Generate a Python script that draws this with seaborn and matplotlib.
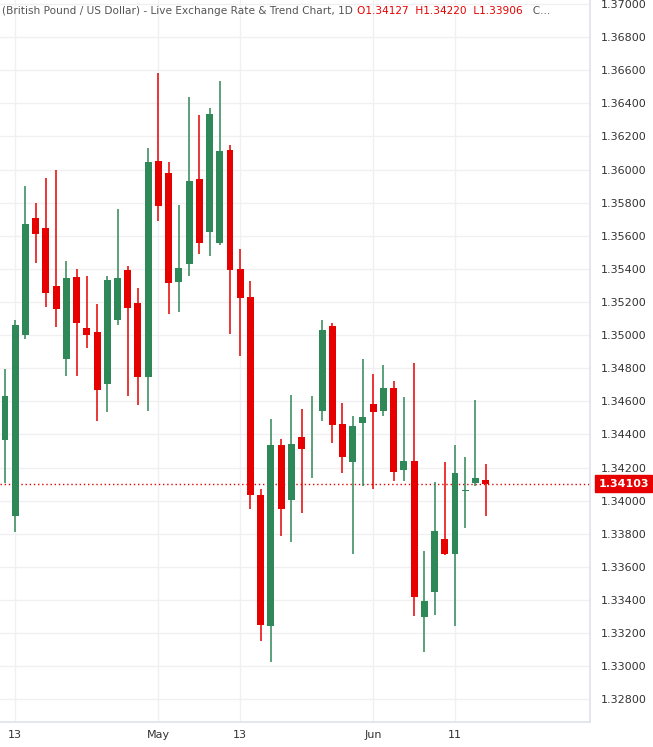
import matplotlib
matplotlib.use("Agg")
import matplotlib.pyplot as plt
import seaborn as sns
import numpy as np
import pandas as pd

dates = pd.bdate_range("2020-04-10", periods=48)
opens = [1.34367,1.33908,1.35001,1.35707,1.35647,1.35297,1.34856,1.35351,1.35043,1.35019,
         1.34705,1.35091,1.35393,1.35194,1.34747,1.36052,1.35979,1.35321,1.35430,1.35943,
         1.35623,1.35556,1.36118,1.35399,1.35230,1.34034,1.33243,1.34336,1.34004,1.34385,
         1.34334,1.34542,1.35055,1.34463,1.34234,1.34469,1.34584,1.34542,1.34680,1.34185,
         1.34240,1.33297,1.33449,1.33769,1.33678,1.34061,1.34107,1.34127]
highs = [1.34795,1.35091,1.35901,1.35798,1.35949,1.35997,1.35448,1.35399,1.35357,1.35188,
         1.35357,1.35762,1.35418,1.35285,1.36130,1.36583,1.36046,1.35786,1.36438,1.36330,
         1.36372,1.36535,1.36148,1.35520,1.35327,1.34071,1.34493,1.34373,1.34638,1.34554,
         1.34632,1.35091,1.35073,1.34590,1.34512,1.34856,1.34765,1.34820,1.34723,1.34626,
         1.34832,1.33696,1.34113,1.34234,1.34336,1.34264,1.34608,1.34220]
lows = [1.34107,1.33811,1.34977,1.35436,1.35170,1.35049,1.34753,1.34753,1.34922,1.34481,
        1.34536,1.35061,1.34632,1.34578,1.34542,1.35689,1.35128,1.35140,1.35357,1.35490,
        1.35478,1.35544,1.35007,1.34874,1.33950,1.33153,1.33026,1.33787,1.33750,1.33926,
        1.34137,1.34481,1.34348,1.34167,1.33678,1.34089,1.34071,1.34512,1.34119,1.34119,
        1.33304,1.33086,1.33310,1.33672,1.33243,1.33835,1.34089,1.33906]
closes = [1.34632,1.35061,1.35671,1.35611,1.35254,1.35158,1.35345,1.35073,1.35001,1.34669,
          1.35333,1.35345,1.35164,1.34747,1.36046,1.35780,1.35315,1.35405,1.35931,1.35556,
          1.36336,1.36112,1.35393,1.35224,1.34034,1.33249,1.34336,1.33950,1.34342,1.34312,
          1.34337,1.35031,1.34457,1.34264,1.34451,1.34505,1.34536,1.34680,1.34173,1.34240,
          1.33418,1.33394,1.33817,1.33678,1.34167,1.34067,1.34137,1.34103]
tick_idx = [1, 15, 23, 36, 44]
tick_labels = ["13", "May", "13", "Jun", "11"]
ytick_vals = [1.328 + 0.002 * k for k in range(22)]

sns.set_theme(style="white")
plt.rcParams['font.family'] = ['DejaVu Sans']

GREEN = "#2e8857"
RED = "#e60000"

fig = plt.figure(figsize=(6.53, 7.47), dpi=100)
ax = fig.add_axes([0.0, 0.0335, 0.9035, 0.9665])

df = pd.DataFrame({"date": dates, "o": opens, "h": highs, "l": lows, "c": closes})
df["x"] = np.arange(len(df))
up = df["c"] >= df["o"]
colors = np.where(up, GREEN, RED)

ax.vlines(df["x"], df["l"], df["h"], colors=colors, linewidth=1.1, zorder=3)
bottoms = np.minimum(df["o"], df["c"])
heights = np.maximum(np.abs(df["c"] - df["o"]), 0.00004)
ax.bar(df["x"], heights, bottom=bottoms, width=0.68, color=colors, linewidth=0, zorder=4)

ax.set_xlim(-0.49, 57.2)
ax.set_ylim(1.32663, 1.37024)
ax.set_yticks(ytick_vals)
ax.set_yticklabels([f"{v:.5f}" for v in ytick_vals])
ax.yaxis.tick_right()
ax.set_xticks(tick_idx)
ax.set_xticklabels(tick_labels)
ax.tick_params(axis="both", labelsize=8, colors="#333333", length=0, pad=6)
ax.tick_params(axis="y", pad=8)
ax.grid(True, color="#f0f0f3", linewidth=1)
for s in ["top", "left"]:
    ax.spines[s].set_visible(False)
for s in ["right", "bottom"]:
    ax.spines[s].set_color("#e0e3eb")

last = closes[-1]
ax.axhline(last, color=RED, linestyle=(0, (1, 2)), linewidth=1, zorder=2)
ax.annotate(f"{last:.5f}", xy=(1.0, last), xycoords=("axes fraction", "data"),
            xytext=(6, 0), textcoords="offset points", va="center", ha="left",
            fontsize=8, color="white", fontweight="bold",
            bbox=dict(boxstyle="square,pad=0.3", fc=RED, ec=RED), annotation_clip=False)

t = ax.text(0.004, 0.992, "(British Pound / US Dollar) - Live Exchange Rate & Trend Chart, 1D ",
            transform=ax.transAxes, fontsize=7.6, color="#555555", va="top", ha="left")
prev = t
for part, col in [(f"O{opens[-1]:.5f} ", RED), (f" H{highs[-1]:.5f} ", RED),
                  (f" L{lows[-1]:.5f} ", RED), ("  C...", "#555555")]:
    prev = ax.annotate(part, xy=(1, 0), xycoords=prev, fontsize=7.6, color=col,
                       va="bottom", ha="left")

fig.savefig("out.png", dpi=100)
